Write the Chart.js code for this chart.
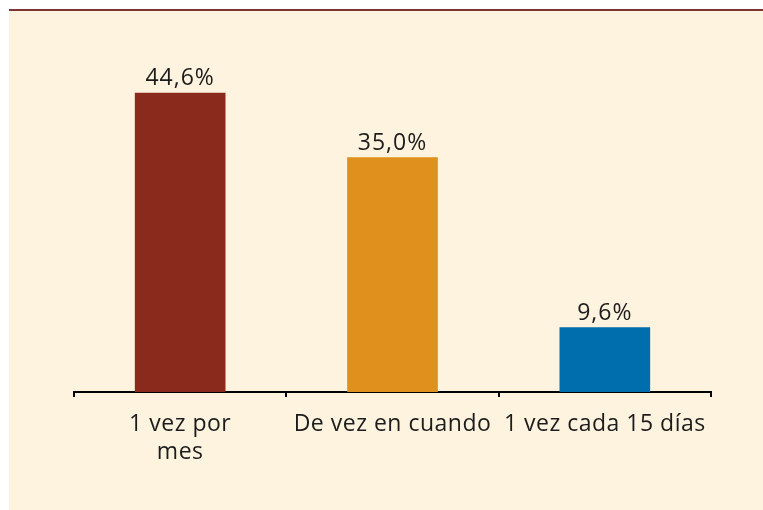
<!DOCTYPE html>
<html>
<head>
<meta charset="utf-8">
<script src="https://cdn.jsdelivr.net/npm/chart.js@4/dist/chart.umd.js"></script>
<style>
  html, body { margin: 0; padding: 0; background: #ffffff; }
  #frame {
    position: absolute; left: 9px; top: 9px; width: 754px; height: 501px;
    background: #fef3df; border-top: 2px solid #7d3434; box-sizing: border-box;
  }
  #wrap { position: absolute; left: 0; top: 0; width: 763px; height: 510px; }
</style>
</head>
<body>
<div id="frame"></div>
<div id="wrap"><canvas id="chart" width="763" height="510"></canvas></div>
<script>
// categorías y valores
const categories = [["1 vez por", "mes"], "De vez en cuando", "1 vez cada 15 días"]
const values = [44.6, 35.0, 9.6]
const barColors = ["#8a2a1d", "#e0901c", "#006dac"]

const textColor = "#1c1c1c"

// etiquetas de valor encima de cada barra (no hay plugin datalabels)
const valueLabels = {
  id: "valueLabels",
  beforeDraw(chart) {
    chart.ctx.letterSpacing = "0.5px"
  },
  afterDatasetsDraw(chart) {
    const ctx = chart.ctx
    const meta = chart.getDatasetMeta(0)
    ctx.save()
    ctx.font = "23px 'Open Sans'"
    ctx.letterSpacing = "1px"
    ctx.fillStyle = textColor
    ctx.textAlign = "center"
    ctx.textBaseline = "alphabetic"
    meta.data.forEach((bar, i) => {
      const label = values[i].toFixed(1).replace(".", ",") + "%"
      ctx.fillText(label, bar.x, bar.y - 8)
    })
    ctx.restore()
  }
}

new Chart(document.getElementById("chart"), {
  type: "bar",
  data: {
    labels: categories,
    datasets: [{
      data: values,
      backgroundColor: barColors,
      borderWidth: 0,
      barThickness: 90
    }]
  },
  options: {
    responsive: false,
    animation: false,
    layout: { padding: { left: 74, right: 52, top: 57, bottom: 28 } },
    scales: {
      x: {
        afterFit: (scale) => { scale.height = 90 },
        border: { display: true, color: "#000000", width: 2 },
        grid: { drawOnChartArea: false, drawTicks: true, tickLength: 5, color: "#000000", lineWidth: 2 },
        ticks: {
          color: textColor,
          font: { family: "'Open Sans'", size: 23, lineHeight: 1.22 },
          padding: 13,
          maxRotation: 0,
          autoSkip: false
        }
      },
      y: {
        display: false,
        min: 0,
        max: 50
      }
    },
    plugins: {
      legend: { display: false },
      tooltip: { enabled: false }
    }
  },
  plugins: [valueLabels]
})
</script>
</body>
</html>
